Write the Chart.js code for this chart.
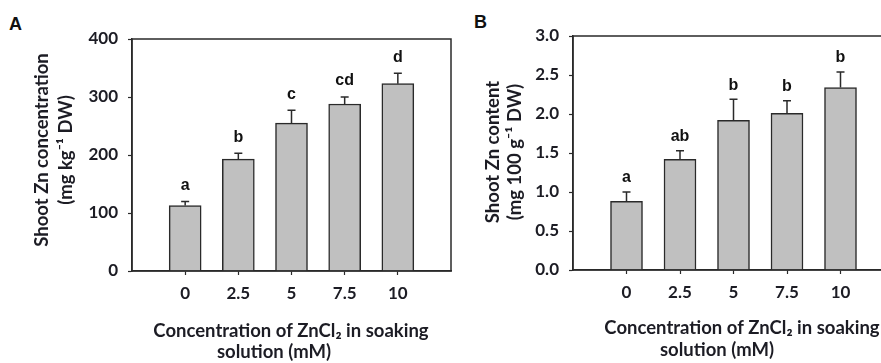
<!DOCTYPE html>
<html>
<head>
<meta charset="utf-8">
<script src="https://cdn.jsdelivr.net/npm/chart.js@4.4.1/dist/chart.umd.min.js"></script>
<style>
  html, body { margin: 0; padding: 0; background: #fff; }
  body { width: 881px; height: 363px; overflow: hidden; position: relative; }
  .panel { position: absolute; top: 0; height: 363px; }
  #panelA { left: 0; width: 460px; }
  #panelB { left: 460px; width: 460px; }
  .tag { position: absolute; font: bold 18px "Liberation Sans", Arial, sans-serif; color: #111; }
</style>
</head>
<body>
<div class="tag" style="left:9px;top:14px">A</div>
<div class="tag" style="left:474px;top:12px">B</div>
<div class="panel" id="panelA"><canvas id="chartA" width="460" height="363"></canvas></div>
<div class="panel" id="panelB"><canvas id="chartB" width="460" height="363"></canvas></div>
<script>
/* data */
const concLabels = ['0', '2.5', '5', '7.5', '10'];

const znConc = [113, 193, 255, 288, 323];        // mg kg-1 DW
const znConcErr = [7, 10, 22, 12, 18];
const znConcLetters = ['a', 'b', 'c', 'cd', 'd'];

const znContent = [0.88, 1.42, 1.92, 2.01, 2.34]; // mg 100 g-1 DW
const znContentErr = [0.12, 0.11, 0.27, 0.16, 0.20];
const znContentLetters = ['a', 'ab', 'b', 'b', 'b'];

const xTitle = ['Concentration of ZnCl\u2082 in soaking', 'solution (mM)'];

Chart.defaults.font.family = 'Lato, "Open Sans", sans-serif';
Chart.defaults.color = '#1c1c24';

const ink = '#2a2a2a';

function decorPlugin(values, errs, letters, cfg) {
    return {
        id: 'decor',
        afterDatasetsDraw(chart) {
            const ctx = chart.ctx;
            const area = chart.chartArea;
            const ys = chart.scales.y;
            const meta = chart.getDatasetMeta(0);
            ctx.save();
            ctx.strokeStyle = ink;
            ctx.lineWidth = 1.5;
            // box round plot
            ctx.strokeRect(area.left, area.top, area.right - area.left, area.bottom - area.top);
            // upper error bars and letters
            ctx.fillStyle = '#111';
            ctx.font = 'bold 16px "Liberation Sans", Arial, sans-serif';
            ctx.textAlign = 'center';
            ctx.textBaseline = 'middle';
            meta.data.forEach((bar, i) => {
                const top = ys.getPixelForValue(values[i] + errs[i]);
                ctx.beginPath();
                ctx.moveTo(bar.x, bar.y);
                ctx.lineTo(bar.x, top);
                ctx.moveTo(bar.x - 4, top);
                ctx.lineTo(bar.x + 4, top);
                ctx.stroke();
                ctx.fillText(letters[i], bar.x, top - cfg.letterGap);
            });
            // axis titles
            ctx.fillStyle = '#1c1c24';
            ctx.font = 'bold 18.5px Lato, "Open Sans", sans-serif';
            cfg.yTitle.forEach((t, k) => {
                ctx.save();
                ctx.translate(cfg.yTitleX[k], cfg.yTitleY);
                ctx.rotate(-Math.PI / 2);
                ctx.fillText(t, 0, 0);
                ctx.restore();
            });
            xTitle.forEach((t, k) => {
                ctx.fillText(t, cfg.xTitleX[k], cfg.xTitleY[k]);
            });
            ctx.restore();
        }
    };
}

function makeChart(id, values, errs, letters, cfg) {
    new Chart(document.getElementById(id), {
        type: 'bar',
        data: {
            datasets: [{
                data: values.map((v, i) => ({ x: i, y: v })),
                backgroundColor: '#c0c0c0',
                borderColor: ink,
                borderWidth: 1.5,
                barThickness: 32
            }]
        },
        options: {
            responsive: false,
            animation: false,
            layout: { padding: { left: 0, top: cfg.top, right: cfg.right, bottom: 0 } },
            plugins: { legend: { display: false }, tooltip: { enabled: false } },
            scales: {
                x: {
                    type: 'linear',
                    offset: false,
                    min: -1,
                    max: 5,
                    afterBuildTicks: s => { s.ticks = concLabels.map((_, i) => ({ value: i })); },
                    afterFit: s => { s.height = 363 - cfg.bottom; },
                    ticks: {
                        callback: v => concLabels[v],
                        font: { size: 17, weight: 'bold' },
                        padding: 8,
                        autoSkip: false,
                        maxRotation: 0
                    },
                    grid: { drawOnChartArea: false, offset: false, tickLength: 4, color: ink, tickWidth: 1.2 },
                    border: { color: ink, width: 1.5 }
                },
                y: {
                    min: 0,
                    max: cfg.yMax,
                    afterFit: s => { s.width = cfg.left; },
                    ticks: {
                        stepSize: cfg.yStep,
                        callback: v => v.toFixed(cfg.yDec),
                        font: { size: 17, weight: 'bold' },
                        padding: 10
                    },
                    grid: { drawOnChartArea: false, tickLength: 4, color: ink, tickWidth: 1.2 },
                    border: { color: ink, width: 1.5 }
                }
            }
        },
        plugins: [decorPlugin(values, errs, letters, cfg)]
    });
}

makeChart('chartA', znConc, znConcErr, znConcLetters, {
    left: 132, right: 9, top: 39, bottom: 271,
    yMax: 400, yStep: 100, yDec: 0, letterGap: 16,
    yTitle: ['Shoot Zn concentration', '(mg kg\u207B\u00B9 DW)'],
    yTitleX: [42, 66], yTitleY: 150,
    xTitleX: [291, 274], xTitleY: [331, 352]
});

makeChart('chartB', znContent, znContentErr, znContentLetters, {
    left: 113, right: 26, top: 36, bottom: 270,
    yMax: 3, yStep: 0.5, yDec: 1, letterGap: 14,
    yTitle: ['Shoot Zn content', '(mg 100 g\u207B\u00B9 DW)'],
    yTitleX: [33, 55], yTitleY: 152,
    xTitleX: [282, 257], xTitleY: [328, 350]
});
</script>
</body>
</html>
